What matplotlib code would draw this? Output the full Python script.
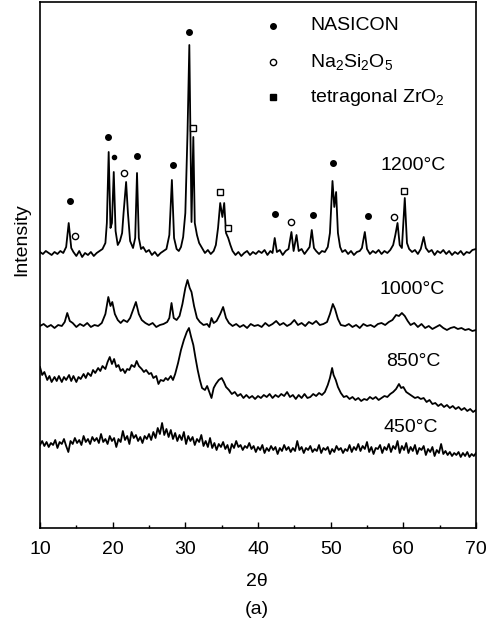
# XRD das amostras (a) - 450, 850, 1000, 1200 C

import matplotlib
matplotlib.use("Agg")
import matplotlib.pyplot as plt

plt.rcParams["font.family"] = ["Liberation Sans", "DejaVu Sans"]
plt.rcParams["mathtext.default"] = "regular"

# intensidade relativa a linha de base de cada curva (u.a.)
xrd_1200 = [
    (10.0, 1), (10.4, -1), (10.8, 2), (11.2, 0), (11.6, -2), (12.0, 1), (12.4, -1), (12.8, 2),
    (13.2, 0), (13.6, 6), (13.95, 30), (14.3, 5), (14.6, 1), (15.0, -3), (15.4, 2), (15.8, -4),
    (16.2, 0), (16.6, -2), (17.0, 1), (17.4, -3), (17.8, 0), (18.2, 2), (18.6, 4), (19.0, 10),
    (19.2, 30), (19.45, 101), (19.7, 25), (19.9, 30), (20.15, 81), (20.4, 22), (20.7, 8),
    (21.0, 12), (21.3, 20), (21.5, 40), (21.85, 71), (22.1, 40), (22.4, 12), (22.8, 5),
    (23.1, 15), (23.35, 80), (23.6, 15), (23.9, 4), (24.2, 6), (24.6, 1), (25.0, 3), (25.4, -2),
    (25.8, 1), (26.2, -3), (26.6, 0), (27.0, 2), (27.4, 4), (27.8, 18), (28.15, 73), (28.45, 15),
    (28.8, 4), (29.1, 2), (29.4, 6), (29.7, 16), (30.0, 40), (30.3, 120), (30.55, 208),
    (30.7, 120), (30.85, 31), (31.1, 116), (31.3, 30), (31.6, 18), (31.9, 10), (32.3, 5),
    (32.7, 0), (33.1, 3), (33.5, -1), (33.9, 2), (34.2, 8), (34.5, 25), (34.8, 50), (35.1, 36),
    (35.35, 50), (35.6, 20), (35.9, 15), (36.2, 8), (36.5, 2), (36.9, -2), (37.3, 1), (37.7, -3),
    (38.1, 0), (38.5, 2), (38.9, -2), (39.3, 1), (39.7, -1), (40.1, 2), (40.5, 0), (40.9, 3),
    (41.3, -2), (41.7, 2), (42.0, 0), (42.3, 15), (42.6, 1), (43.0, 3), (43.4, -2), (43.8, 2),
    (44.2, 4), (44.6, 21), (44.9, 2), (45.3, 18), (45.6, 2), (46.0, 4), (46.4, -1), (46.8, 3),
    (47.1, 6), (47.4, 23), (47.7, 5), (48.0, 2), (48.4, -1), (48.8, 2), (49.2, 1), (49.6, 6),
    (49.9, 20), (50.25, 72), (50.5, 46), (50.75, 61), (51.0, 20), (51.3, 6), (51.6, 1),
    (52.0, 3), (52.4, -1), (52.8, 2), (53.2, -2), (53.6, 1), (54.0, 2), (54.3, 5), (54.7, 21),
    (55.0, 4), (55.4, -1), (55.8, 2), (56.2, 0), (56.6, 3), (57.0, -1), (57.4, 2), (57.8, 0),
    (58.2, 3), (58.6, 8), (58.9, 18), (59.2, 30), (59.5, 8), (59.8, 5), (60.2, 55), (60.5, 10),
    (60.8, 4), (61.2, 1), (61.6, 3), (62.0, -1), (62.4, 4), (62.8, 16), (63.1, 5), (63.5, 1),
    (63.9, 3), (64.3, -2), (64.7, 2), (65.1, 0), (65.5, 3), (65.9, -1), (66.3, 2), (66.7, -2),
    (67.1, 1), (67.5, -1), (67.9, 2), (68.3, -2), (68.7, 1), (69.1, 0), (69.5, 3), (70.0, 4),
]

xrd_1000 = [
    (10.0, 0), (10.5, 2), (11.0, -1), (11.5, 1), (12.0, -2), (12.5, 1), (13.0, 0), (13.4, 4),
    (13.75, 13), (14.1, 5), (14.5, 3), (15.0, -1), (15.5, 2), (16.0, 0), (16.5, 3), (17.0, -1),
    (17.5, 1), (18.0, 0), (18.5, 3), (19.0, 12), (19.4, 29), (19.7, 20), (19.95, 24),
    (20.3, 12), (20.7, 6), (21.1, 3), (21.5, 6), (22.0, 4), (22.4, 8), (22.7, 14), (23.2, 24),
    (23.6, 12), (24.0, 6), (24.5, 3), (25.0, 1), (25.5, 3), (26.0, -1), (26.5, 1), (27.0, 2),
    (27.5, 4), (27.8, 8), (28.1, 23), (28.4, 8), (28.8, 6), (29.2, 10), (29.6, 22), (30.0, 38),
    (30.3, 46), (30.6, 38), (30.85, 34), (31.2, 20), (31.6, 8), (32.0, 4), (32.5, 1), (33.0, 2),
    (33.3, -1), (33.6, 8), (33.9, 3), (34.3, 5), (34.8, 12), (35.2, 19), (35.6, 8), (36.0, 3),
    (36.5, 0), (37.0, 2), (37.5, -1), (38.0, 1), (38.5, -2), (39.0, 2), (39.5, 0), (40.0, 1),
    (40.5, -1), (41.0, 3), (41.5, 0), (42.0, 2), (42.5, 5), (43.0, 1), (43.5, 3), (44.0, 0),
    (44.5, 2), (45.0, 6), (45.5, 1), (46.0, 3), (46.5, 0), (47.0, 4), (47.5, 2), (48.0, 5),
    (48.5, 1), (49.0, 2), (49.5, 4), (49.9, 12), (50.3, 22), (50.6, 17), (51.0, 7), (51.4, 1),
    (52.0, 0), (52.5, 2), (53.0, -1), (53.5, 1), (54.0, -2), (54.5, 2), (55.0, 0), (55.5, 1),
    (56.0, -1), (56.5, 2), (57.0, 3), (57.5, 1), (58.0, 4), (58.5, 6), (59.0, 11), (59.4, 10),
    (59.8, 13), (60.2, 10), (60.6, 5), (61.0, 1), (61.5, 3), (62.0, -1), (62.5, 2), (63.0, -2),
    (63.5, 0), (64.0, -3), (64.5, -1), (65.0, 1), (65.5, -2), (66.0, -4), (66.5, -2), (67.0, -1),
    (67.5, -3), (68.0, -2), (68.5, -4), (69.0, -3), (69.5, -5), (70.0, -4),
]

xrd_850 = [
    (10.0, 33), (10.3, 25), (10.6, 28), (11.0, 20), (11.3, 24), (11.6, 18), (12.0, 23),
    (12.3, 19), (12.6, 24), (13.0, 18), (13.3, 23), (13.6, 20), (14.0, 25), (14.3, 19),
    (14.6, 24), (15.0, 18), (15.3, 23), (15.6, 21), (16.0, 26), (16.3, 22), (16.6, 27),
    (17.0, 24), (17.3, 30), (17.6, 27), (18.0, 32), (18.3, 29), (18.6, 34), (19.0, 31),
    (19.3, 38), (19.6, 43), (19.9, 36), (20.2, 41), (20.5, 33), (20.8, 35), (21.1, 29),
    (21.4, 31), (21.7, 27), (22.0, 31), (22.3, 30), (22.6, 35), (23.0, 33), (23.3, 39),
    (23.6, 34), (24.0, 31), (24.3, 28), (24.6, 30), (25.0, 26), (25.3, 27), (25.6, 22),
    (26.0, 24), (26.3, 16), (26.6, 20), (27.0, 19), (27.3, 22), (27.6, 20), (28.0, 24),
    (28.3, 20), (28.6, 26), (29.0, 37), (29.4, 50), (29.8, 60), (30.2, 68), (30.5, 72),
    (30.8, 63), (31.1, 55), (31.4, 42), (31.7, 30), (32.0, 20), (32.3, 12), (32.7, 10),
    (33.0, 14), (33.3, 8), (33.6, 2), (33.9, 12), (34.2, 16), (34.6, 20), (35.0, 22),
    (35.3, 18), (35.6, 13), (36.0, 10), (36.4, 6), (36.8, 8), (37.2, 4), (37.6, 6), (38.0, 2),
    (38.4, 5), (38.8, 2), (39.2, 4), (39.6, 1), (40.0, 4), (40.4, 2), (40.8, 5), (41.2, 3),
    (41.6, 6), (42.0, 2), (42.4, 5), (42.8, 3), (43.2, 6), (43.6, 4), (44.0, 8), (44.4, 3),
    (44.8, 5), (45.2, 1), (45.6, 5), (46.0, 2), (46.4, 6), (46.8, 2), (47.2, 3), (47.6, 6),
    (48.0, 4), (48.4, 7), (48.8, 5), (49.2, 8), (49.6, 15), (49.9, 22), (50.2, 32), (50.4, 25),
    (50.7, 20), (51.0, 13), (51.4, 7), (51.8, 3), (52.2, 4), (52.6, 1), (53.0, 3), (53.4, 0),
    (53.8, 2), (54.2, -1), (54.6, 1), (55.0, 0), (55.4, 3), (55.8, 1), (56.2, 3), (56.6, 0),
    (57.0, 2), (57.4, 4), (57.8, 3), (58.2, 6), (58.6, 8), (59.0, 11), (59.4, 16), (59.7, 12),
    (60.0, 13), (60.4, 8), (60.8, 6), (61.2, 4), (61.6, 2), (62.0, 3), (62.4, 1), (62.8, 2),
    (63.2, -2), (63.6, 0), (64.0, -4), (64.4, -3), (64.8, -6), (65.2, -4), (65.6, -7),
    (66.0, -5), (66.4, -8), (66.8, -6), (67.2, -9), (67.6, -7), (68.0, -10), (68.4, -8),
    (68.8, -11), (69.2, -9), (69.6, -12), (70.0, -10),
]

xrd_450 = [
    (10.0, 5), (10.3, 9), (10.6, 4), (10.9, 8), (11.2, 3), (11.5, 7), (11.8, 5), (12.1, 10),
    (12.4, 2), (12.7, 8), (13.0, 6), (13.3, 11), (13.6, 4), (13.9, -2), (14.2, 9), (14.5, 6),
    (14.8, 12), (15.1, 7), (15.4, 10), (15.7, 5), (16.0, 14), (16.3, 8), (16.6, 11), (16.9, 6),
    (17.2, 13), (17.5, 9), (17.8, 12), (18.1, 7), (18.4, 16), (18.7, 8), (19.0, 11), (19.3, 6),
    (19.6, 14), (19.9, 9), (20.2, 12), (20.5, 3), (20.8, 11), (21.1, 8), (21.4, 19), (21.7, 10),
    (22.0, 14), (22.3, 6), (22.6, 18), (22.9, 12), (23.2, 15), (23.5, 9), (23.8, 13), (24.1, 7),
    (24.4, 14), (24.7, 11), (25.0, 16), (25.3, 10), (25.6, 18), (25.9, 12), (26.2, 22),
    (26.5, 16), (26.8, 27), (27.1, 15), (27.4, 21), (27.7, 13), (28.0, 20), (28.3, 11),
    (28.6, 17), (28.9, 9), (29.2, 15), (29.5, 10), (29.8, 18), (30.1, 6), (30.4, 14), (30.7, 9),
    (31.0, 13), (31.3, 5), (31.6, 11), (31.9, 8), (32.2, 15), (32.5, 4), (32.8, 9), (33.1, 3),
    (33.4, 12), (33.7, 2), (34.0, 7), (34.3, 0), (34.6, 6), (34.9, 3), (35.2, 8), (35.5, 1),
    (35.8, 5), (36.1, -3), (36.4, 6), (36.7, 2), (37.0, 9), (37.3, 3), (37.6, 5), (37.9, 0),
    (38.2, 4), (38.5, 2), (38.8, 7), (39.1, 1), (39.4, 4), (39.7, -2), (40.0, 3), (40.3, 0),
    (40.6, 5), (40.9, -3), (41.2, 2), (41.5, -1), (41.8, 4), (42.1, 0), (42.4, 3), (42.7, -4),
    (43.0, 2), (43.3, -1), (43.6, 5), (43.9, 0), (44.2, 3), (44.5, -2), (44.8, 2), (45.1, -1),
    (45.4, 9), (45.7, 0), (46.0, 3), (46.3, -3), (46.6, 2), (46.9, 0), (47.2, 4), (47.5, -2),
    (47.8, 1), (48.1, -1), (48.4, 5), (48.7, -3), (49.0, 2), (49.3, 0), (49.6, 3), (49.9, -4),
    (50.2, 1), (50.5, -2), (50.8, 4), (51.1, 0), (51.4, 2), (51.7, -3), (52.0, 1), (52.3, -1),
    (52.6, 5), (52.9, -2), (53.2, 3), (53.5, 0), (53.8, 6), (54.1, -1), (54.4, 4), (54.7, 1),
    (55.0, 8), (55.3, -2), (55.6, 3), (55.9, -4), (56.2, 2), (56.5, 1), (56.8, 5), (57.1, -3),
    (57.4, 3), (57.7, 0), (58.0, 6), (58.3, -2), (58.6, 4), (58.9, 1), (59.2, 9), (59.5, -3),
    (59.8, 4), (60.1, 0), (60.4, 7), (60.7, -3), (61.0, 3), (61.3, -1), (61.6, 5), (61.9, -4),
    (62.2, 2), (62.5, 0), (62.8, 4), (63.1, -5), (63.4, 1), (63.7, -2), (64.0, 3), (64.3, -6),
    (64.6, 0), (64.9, -3), (65.2, 6), (65.5, -4), (65.8, -1), (66.1, -5), (66.4, -2), (66.7, -6),
    (67.0, -3), (67.3, -5), (67.6, -2), (67.9, -7), (68.2, -3), (68.5, -6), (68.8, -2),
    (69.1, -7), (69.4, -4), (69.7, -6), (70.0, -3),
]

temperaturas = ["1200°C", "1000°C", "850°C", "450°C"]
curvas = [xrd_1200, xrd_1000, xrd_850, xrd_450]

# identificacao das fases (curva 1200 C): 2theta, altura do simbolo
nasicon_pk = [(14.1, 52), (19.3, 116), (23.4, 97), (28.3, 88), (30.55, 221),
              (42.4, 39), (47.6, 38), (50.3, 90), (55.1, 37)]
nasicon_pk_small = [(20.2, 96)]
na2si2o5_pk = [(14.8, 17), (21.6, 80), (44.6, 31), (58.7, 36)]
zro2_pk = [(31.1, 125), (34.8, 61), (35.9, 25), (60.1, 62)]

fases = ["NASICON", "Na$_2$Si$_2$O$_5$", "tetragonal ZrO$_2$"]

# deslocamento vertical de cada curva
offsets = [275, 202, 128, 78]
label_pos = [(61.3, 362), (61.2, 238), (61.4, 166), (61.0, 101)]

fig = plt.figure(figsize=(4.95, 6.24), dpi=100)
ax = fig.add_axes([40 / 495, 96 / 624, 436 / 495, 526 / 624])

for dados, off, temp, (lx, ly) in zip(curvas, offsets, temperaturas, label_pos):
    tt = [p[0] for p in dados]
    ii = [p[1] + off for p in dados]
    ax.plot(tt, ii, color="black", lw=1.3)
    ax.text(lx, ly, temp, fontsize=14, ha="center", va="center")

off = offsets[0]
ax.plot([p[0] for p in nasicon_pk], [p[1] + off for p in nasicon_pk], "o",
        color="black", ms=4, ls="none")
ax.plot([p[0] for p in nasicon_pk_small], [p[1] + off for p in nasicon_pk_small], "o",
        color="black", ms=3, ls="none")
ax.plot([p[0] for p in na2si2o5_pk], [p[1] + off for p in na2si2o5_pk], "o",
        mfc="white", mec="black", mew=1.0, ms=4.5, ls="none")
ax.plot([p[0] for p in zro2_pk], [p[1] + off for p in zro2_pk], "s",
        mfc="white", mec="black", mew=1.0, ms=4.5, ls="none")

# legenda desenhada a mao como no original
ax.plot([42.1], [502], "o", color="black", ms=4)
ax.plot([42.1], [466], "o", mfc="white", mec="black", mew=1.0, ms=4.5)
ax.plot([42.1], [431], "s", color="black", ms=4.5)
ax.text(47.2, 502, fases[0], fontsize=14, va="center")
ax.text(47.2, 466, fases[1], fontsize=14, va="center")
ax.text(47.2, 431, fases[2], fontsize=14, va="center")

ax.set_xlim(10, 70)
ax.set_ylim(0, 526)
ax.set_xticks(range(10, 71, 10))
ax.set_xticks(range(15, 70, 10), minor=True)
ax.set_yticks([])
ax.tick_params(axis="x", which="major", direction="in", length=4, width=1, labelsize=14, pad=9)
ax.tick_params(axis="x", which="minor", direction="in", length=2.5, width=1)
for s in ax.spines.values():
    s.set_linewidth(1.2)

fig.text(22 / 495, 1 - 240 / 624, "Intensity", rotation=90, fontsize=14, ha="center", va="center")
fig.text(257 / 495, 1 - 582 / 624, "2θ", fontsize=14, ha="center", va="center")
fig.text(257 / 495, 1 - 610 / 624, "(a)", fontsize=14, ha="center", va="center")

fig.savefig("out.png", dpi=100)
